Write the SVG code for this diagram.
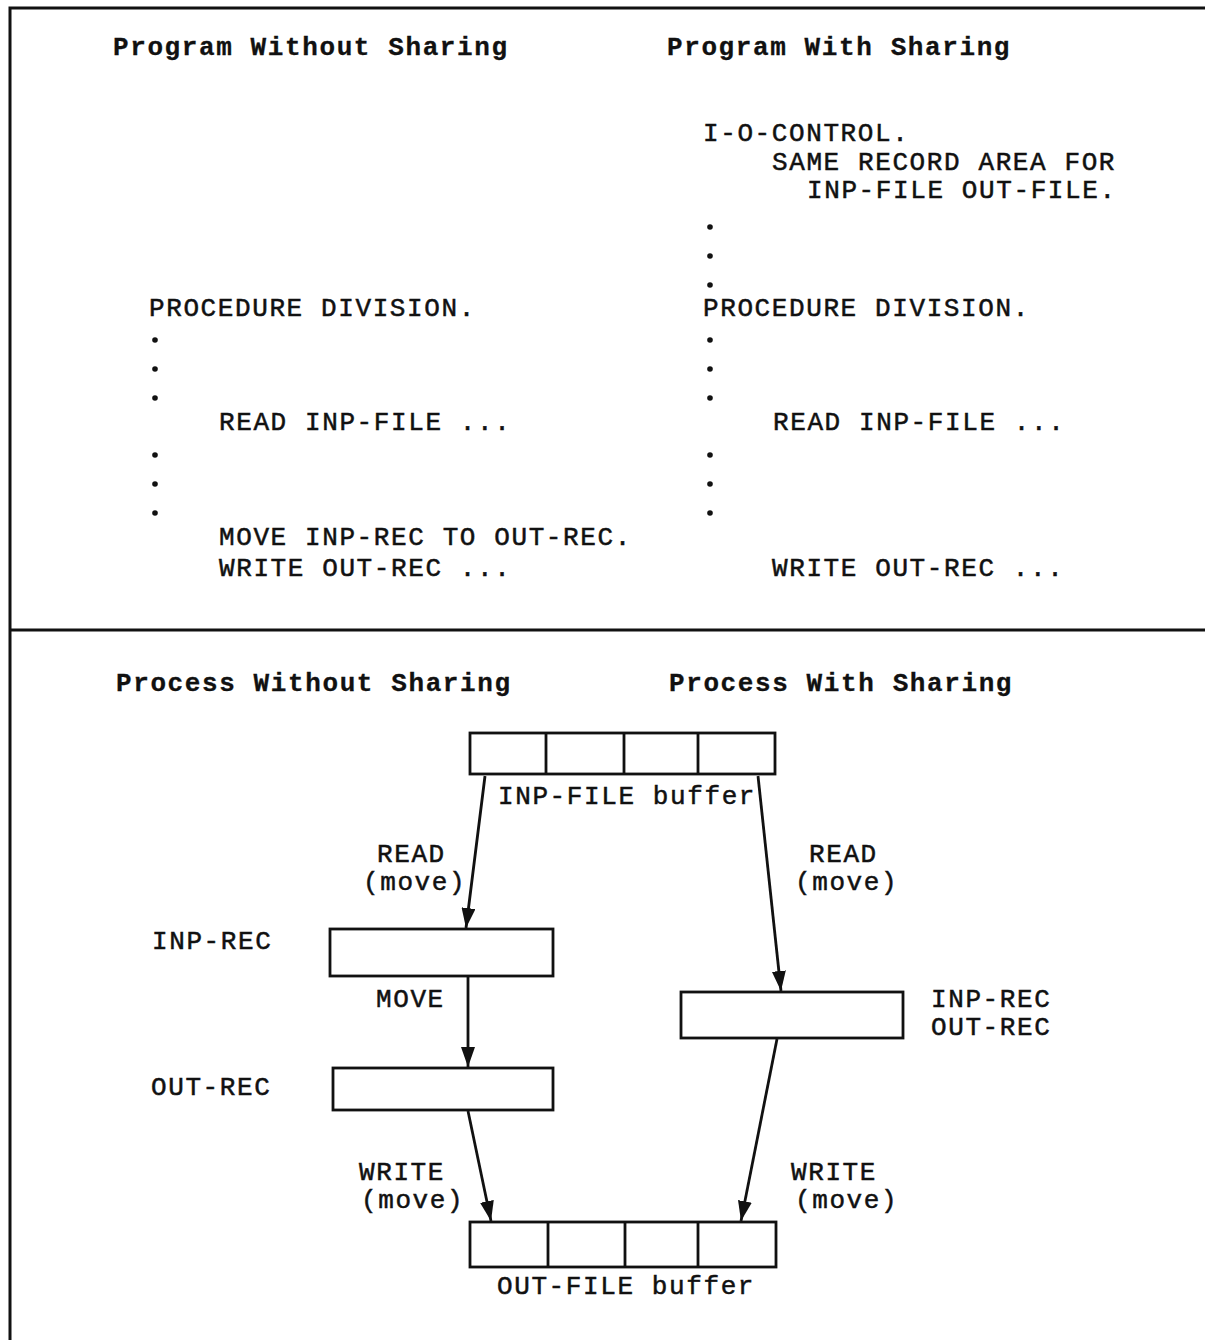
<svg xmlns="http://www.w3.org/2000/svg" width="1205" height="1340" viewBox="0 0 1205 1340">
<defs>
<style>
text{font-family:"Liberation Mono","Courier New",monospace;font-size:26px;letter-spacing:1.6px;fill:#111;stroke:#111;stroke-width:0.5px}
.t{font-weight:bold;stroke-width:0.3px}
.frame{fill:none;stroke:#111;stroke-width:3}
.box{fill:#fff;stroke:#111;stroke-width:2.8}
.div{stroke:#111;stroke-width:2.8}
.arr{fill:none;stroke:#111;stroke-width:2.8;marker-end:url(#ah)}
.dot{fill:#111}
</style>
<marker id="ah" markerUnits="userSpaceOnUse" markerWidth="22" markerHeight="14" refX="20" refY="7" orient="auto">
<path d="M0,0 L20,7 L0,14 Z" fill="#111"/>
</marker>
</defs>
<g id="frame">
<path class="frame" d="M10,1340 V8 H1205"/>
<path class="frame" d="M10,630 H1205"/>
</g>
<g id="program-without">
<text class="t" x="113" y="55">Program Without Sharing</text>
<text x="149" y="316">PROCEDURE DIVISION.</text>
<circle class="dot" cx="155" cy="340" r="2.8"/>
<circle class="dot" cx="155" cy="369" r="2.8"/>
<circle class="dot" cx="155" cy="398" r="2.8"/>
<text x="219" y="430">READ INP-FILE ...</text>
<circle class="dot" cx="155" cy="455" r="2.8"/>
<circle class="dot" cx="155" cy="484" r="2.8"/>
<circle class="dot" cx="155" cy="513" r="2.8"/>
<text x="219" y="545">MOVE INP-REC TO OUT-REC.</text>
<text x="219" y="576">WRITE OUT-REC ...</text>
</g>
<g id="program-with">
<text class="t" x="667" y="55">Program With Sharing</text>
<text x="703" y="141">I-O-CONTROL.</text>
<text x="772" y="170">SAME RECORD AREA FOR</text>
<text x="807" y="198">INP-FILE OUT-FILE.</text>
<circle class="dot" cx="710" cy="227" r="2.8"/>
<circle class="dot" cx="710" cy="256" r="2.8"/>
<circle class="dot" cx="710" cy="285" r="2.8"/>
<text x="703" y="316">PROCEDURE DIVISION.</text>
<circle class="dot" cx="710" cy="340" r="2.8"/>
<circle class="dot" cx="710" cy="369" r="2.8"/>
<circle class="dot" cx="710" cy="398" r="2.8"/>
<text x="773" y="430">READ INP-FILE ...</text>
<circle class="dot" cx="710" cy="455" r="2.8"/>
<circle class="dot" cx="710" cy="484" r="2.8"/>
<circle class="dot" cx="710" cy="513" r="2.8"/>
<text x="772" y="576">WRITE OUT-REC ...</text>
</g>
<g id="titles-process">
<text class="t" x="116" y="691">Process Without Sharing</text>
<text class="t" x="669" y="691">Process With Sharing</text>
</g>
<g id="inp-file-buffer">
<rect class="box" x="470" y="733" width="305" height="41"/>
<line class="div" x1="546" y1="733" x2="546" y2="774"/>
<line class="div" x1="624" y1="733" x2="624" y2="774"/>
<line class="div" x1="698" y1="733" x2="698" y2="774"/>
<text x="498" y="804">INP-FILE buffer</text>
</g>
<g id="inp-rec-left">
<rect class="box" x="330" y="929" width="223" height="47"/>
<text x="152" y="949">INP-REC</text>
</g>
<g id="out-rec-left">
<rect class="box" x="333" y="1068" width="220" height="42"/>
<text x="151" y="1095">OUT-REC</text>
</g>
<g id="shared-rec">
<rect class="box" x="681" y="992" width="222" height="46"/>
<text x="931" y="1007">INP-REC</text>
<text x="931" y="1035">OUT-REC</text>
</g>
<g id="out-file-buffer">
<rect class="box" x="470" y="1222" width="306" height="45"/>
<line class="div" x1="548" y1="1222" x2="548" y2="1267"/>
<line class="div" x1="625" y1="1222" x2="625" y2="1267"/>
<line class="div" x1="698" y1="1222" x2="698" y2="1267"/>
<text x="497" y="1294">OUT-FILE buffer</text>
</g>
<g id="connectors">
<line class="arr" x1="485" y1="776" x2="466" y2="928"/>
<line class="arr" x1="758" y1="776" x2="781" y2="991"/>
<line class="arr" x1="468" y1="977" x2="468" y2="1067"/>
<line class="arr" x1="468" y1="1111" x2="491" y2="1221"/>
<line class="arr" x1="777" y1="1039" x2="741" y2="1221"/>
<text x="377" y="862">READ</text>
<text x="363" y="890">(move)</text>
<text x="809" y="862">READ</text>
<text x="795" y="890">(move)</text>
<text x="376" y="1007">MOVE</text>
<text x="359" y="1180">WRITE</text>
<text x="361" y="1208">(move)</text>
<text x="791" y="1180">WRITE</text>
<text x="795" y="1208">(move)</text>
</g>
</svg>
